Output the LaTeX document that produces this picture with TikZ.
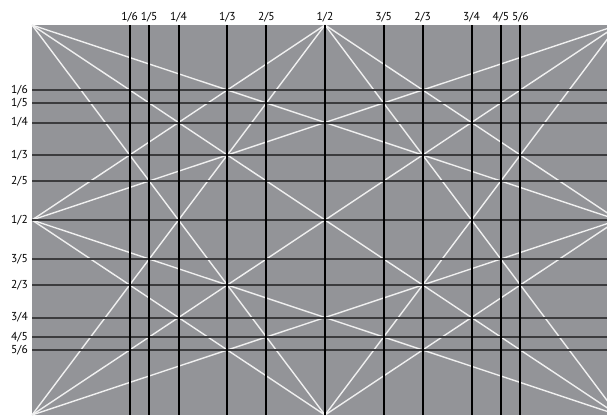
\documentclass[tikz,border=0pt]{standalone}
\usepackage{fontspec}
\setmainfont{PT Sans}
\definecolor{bg}{RGB}{147,148,152}
\definecolor{hline}{RGB}{60,60,62}
\definecolor{wline}{RGB}{240,240,240}
\tikzset{
  diag/.style={draw=wline, line width=1.4pt},
  hgrid/.style={draw=hline, line width=2pt},
  vgrid/.style={draw=black, line width=2pt},
  toplab/.style={font=\fontsize{11.5}{13}\selectfont, anchor=base, inner sep=0pt},
  leftlab/.style={font=\fontsize{11.5}{13}\selectfont, anchor=east, inner sep=0pt},
}
\begin{document}
\begin{tikzpicture}[x=1pt,y=-1pt]
\useasboundingbox (0,0) rectangle (607,415);
\def\L{32}\def\T{25}\def\W{586}\def\H{390}
\begin{scope}
\clip (0,0) rectangle (607,415);
\fill[bg] (\L,\T) rectangle (\L+\W,\T+\H);
% named reference points
\coordinate (tl) at (\L,\T);
\coordinate (tr) at (\L+\W,\T);
\coordinate (bl) at (\L,\T+\H);
\coordinate (br) at (\L+\W,\T+\H);
\coordinate (tm) at (\L+0.5*\W,\T);
\coordinate (bm) at (\L+0.5*\W,\T+\H);
\coordinate (lm) at (\L,\T+0.5*\H);
\coordinate (rm) at (\L+\W,\T+0.5*\H);
% white construction lines
\draw[diag] (tl) -- (br);
\draw[diag] (tr) -- (bl);
\draw[diag] (tl) -- (rm);
\draw[diag] (tl) -- (bm);
\draw[diag] (tr) -- (lm);
\draw[diag] (tr) -- (bm);
\draw[diag] (bl) -- (rm);
\draw[diag] (bl) -- (tm);
\draw[diag] (br) -- (lm);
\draw[diag] (br) -- (tm);
\draw[diag] (tm) -- (lm) -- (bm) -- (rm) -- cycle;
% horizontal grid
\foreach \f in {1/6,1/5,1/4,1/3,2/5,1/2,3/5,2/3,3/4,4/5,5/6}{
  \pgfmathsetmacro{\yy}{\T+\H*\f}
  \coordinate (hl) at (\L,\yy);
  \coordinate (hr) at (\L+\W,\yy);
  \draw[hgrid] (hl) -- (hr);
}
% vertical grid
\foreach \f in {1/6,1/5,1/4,1/3,2/5,1/2,3/5,2/3,3/4,4/5,5/6}{
  \pgfmathsetmacro{\xx}{\L+\W*\f}
  \coordinate (vt) at (\xx,\T);
  \coordinate (vb) at (\xx,\T+\H);
  \draw[vgrid] (vt) -- (vb);
}
\end{scope}
% labels
\foreach \f in {1/6,1/5,1/4,1/3,2/5,1/2,3/5,2/3,3/4,4/5,5/6}{
  \pgfmathsetmacro{\xx}{\L+\W*\f}
  \node[toplab] at (\xx,20) {\f};
  \pgfmathsetmacro{\yy}{\T+\H*\f}
  \node[leftlab] at (28,\yy) {\f};
}
\end{tikzpicture}
\end{document}
